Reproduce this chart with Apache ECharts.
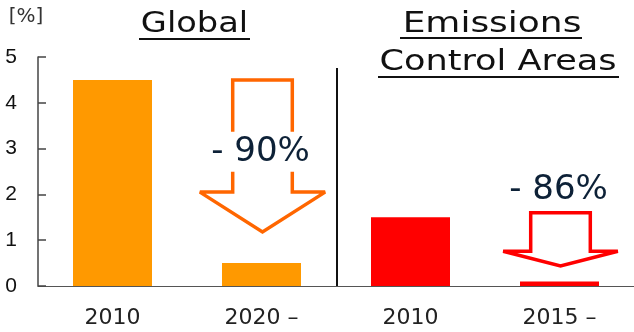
<!DOCTYPE html>
<html><head><meta charset="utf-8">
<script src="https://cdn.jsdelivr.net/npm/echarts@6/dist/echarts.min.js"></script>
<style>html,body{margin:0;padding:0;background:#fff}#c{width:634px;height:332px}</style>
</head><body><div id="c"></div>
<script>
const categories = ['2010', '2020 –', '2010', '2015 –'];
const values = [4.5, 0.5, 1.5, 0.1];
const barGroups = ['global', 'global', 'eca', 'eca'];
const yTicks = [0, 1, 2, 3, 4, 5];
const unitLabel = '[%]';
const titleGlobal = 'Global';
const titleECA = ['Emissions', 'Control Areas'];
// arrows: [categoryIndex, shaftTop, wingLevel, tipLevel]
const arrows = [[1, 4.5, 2.05, 1.18], [3, 1.6, 0.76, 0.44]];
const reductionLabels = ['- 90%', '- 86%'];
const reductionLabelLevels = [2.93, 2.1];
const dividerTop = 4.76;

const groupColors = { global: '#FF9900', eca: '#FF0000' };
const arrowColors = ['#FF6600', '#FF0000'];
const wingRatio = [0.42, 0.385];

const chart = echarts.init(document.getElementById('c'), null, { renderer: 'canvas' });

chart.setOption({
  animation: false,
  backgroundColor: '#fff',
  grid: { left: 38, top: 57, bottom: 46, width: 598 },
  xAxis: {
    type: 'category', data: categories,
    axisTick: { show: false },
    axisLine: { lineStyle: { color: '#555', width: 1 } },
    axisLabel: { fontSize: 22, fontFamily: 'DejaVu Sans', color: '#222', margin: 21 }
  },
  yAxis: {
    type: 'value', min: yTicks[0], max: yTicks[yTicks.length - 1], interval: 1,
    axisLine: { show: true, lineStyle: { color: '#444', width: 1.5 } },
    axisTick: { show: true, inside: true, length: 8, lineStyle: { color: '#444', width: 1.5 } },
    splitLine: { show: false },
    axisLabel: { fontSize: 21, fontFamily: 'Liberation Sans', color: '#111', margin: 21 }
  },
  graphic: [
    { type: 'text', x: 26, y: 17, style: { text: unitLabel, font: '20px "DejaVu Sans"', fill: '#333', align: 'center', verticalAlign: 'middle' } },
    { type: 'text', x: 194.5, y: 24, scaleX: 1.16, style: { text: titleGlobal, font: '29px "DejaVu Sans"', fill: '#111', align: 'center', verticalAlign: 'middle' } },
    { type: 'line', shape: { x1: 139, y1: 39, x2: 250, y2: 39 }, style: { stroke: '#111', lineWidth: 2 } },
    { type: 'text', x: 492, y: 24.5, scaleX: 1.24, style: { text: titleECA[0], font: '29px "DejaVu Sans"', fill: '#111', align: 'center', verticalAlign: 'middle' } },
    { type: 'line', shape: { x1: 400, y1: 38, x2: 582, y2: 38 }, style: { stroke: '#111', lineWidth: 2 } },
    { type: 'text', x: 498, y: 62, scaleX: 1.21, style: { text: titleECA[1], font: '29px "DejaVu Sans"', fill: '#111', align: 'center', verticalAlign: 'middle' } },
    { type: 'line', shape: { x1: 378, y1: 77, x2: 619, y2: 77 }, style: { stroke: '#111', lineWidth: 2 } }
  ],
  series: [
    {
      type: 'bar', barWidth: 79, z: 2,
      data: values.map((v, i) => ({ value: v, itemStyle: { color: groupColors[barGroups[i]] } }))
    },
    {
      type: 'custom', z: 3, silent: true,
      data: [[1, dividerTop]],
      renderItem(params, api) {
        const band = api.size([1, 0])[0];
        const x = api.coord([api.value(0), 0])[0] + band / 2 + 1;
        const y0 = api.coord([api.value(0), 0])[1];
        const y1 = api.coord([api.value(0), api.value(1)])[1];
        return { type: 'line', shape: { x1: x, y1: y1, x2: x, y2: y0 }, style: { stroke: '#111', lineWidth: 2 } };
      }
    },
    {
      type: 'custom', z: 4, silent: true,
      data: arrows.map((a, i) => [...a, i]),
      renderItem(params, api) {
        const c = api.value(0), i = api.value(4);
        const band = api.size([1, 0])[0];
        const cx = api.coord([c, 0])[0] + 1;
        const yT = api.coord([c, api.value(1)])[1];
        const yW = api.coord([c, api.value(2)])[1];
        const yP = api.coord([c, api.value(3)])[1];
        const sh = band * 0.2, wh = band * wingRatio[i];
        return {
          type: 'polygon',
          shape: { points: [[cx - sh, yT], [cx + sh, yT], [cx + sh, yW], [cx + wh, yW], [cx, yP], [cx - wh, yW], [cx - sh, yW]] },
          style: { fill: 'none', stroke: arrowColors[i], lineWidth: 3.5, lineJoin: 'miter', miterLimit: 2.5 }
        };
      }
    },
    {
      type: 'custom', z: 5, silent: true,
      data: arrows.map((a, i) => [a[0], reductionLabelLevels[i], i]),
      renderItem(params, api) {
        const c = api.value(0), i = api.value(2);
        const p = api.coord([c, api.value(1)]);
        return {
          type: 'text', x: p[0] - 1, y: p[1],
          style: { text: reductionLabels[i], font: '34px "DejaVu Sans"', fill: '#0d2137', align: 'center', verticalAlign: 'middle', backgroundColor: '#fff', padding: [3, 0] }
        };
      }
    }
  ]
});
</script></body></html>
